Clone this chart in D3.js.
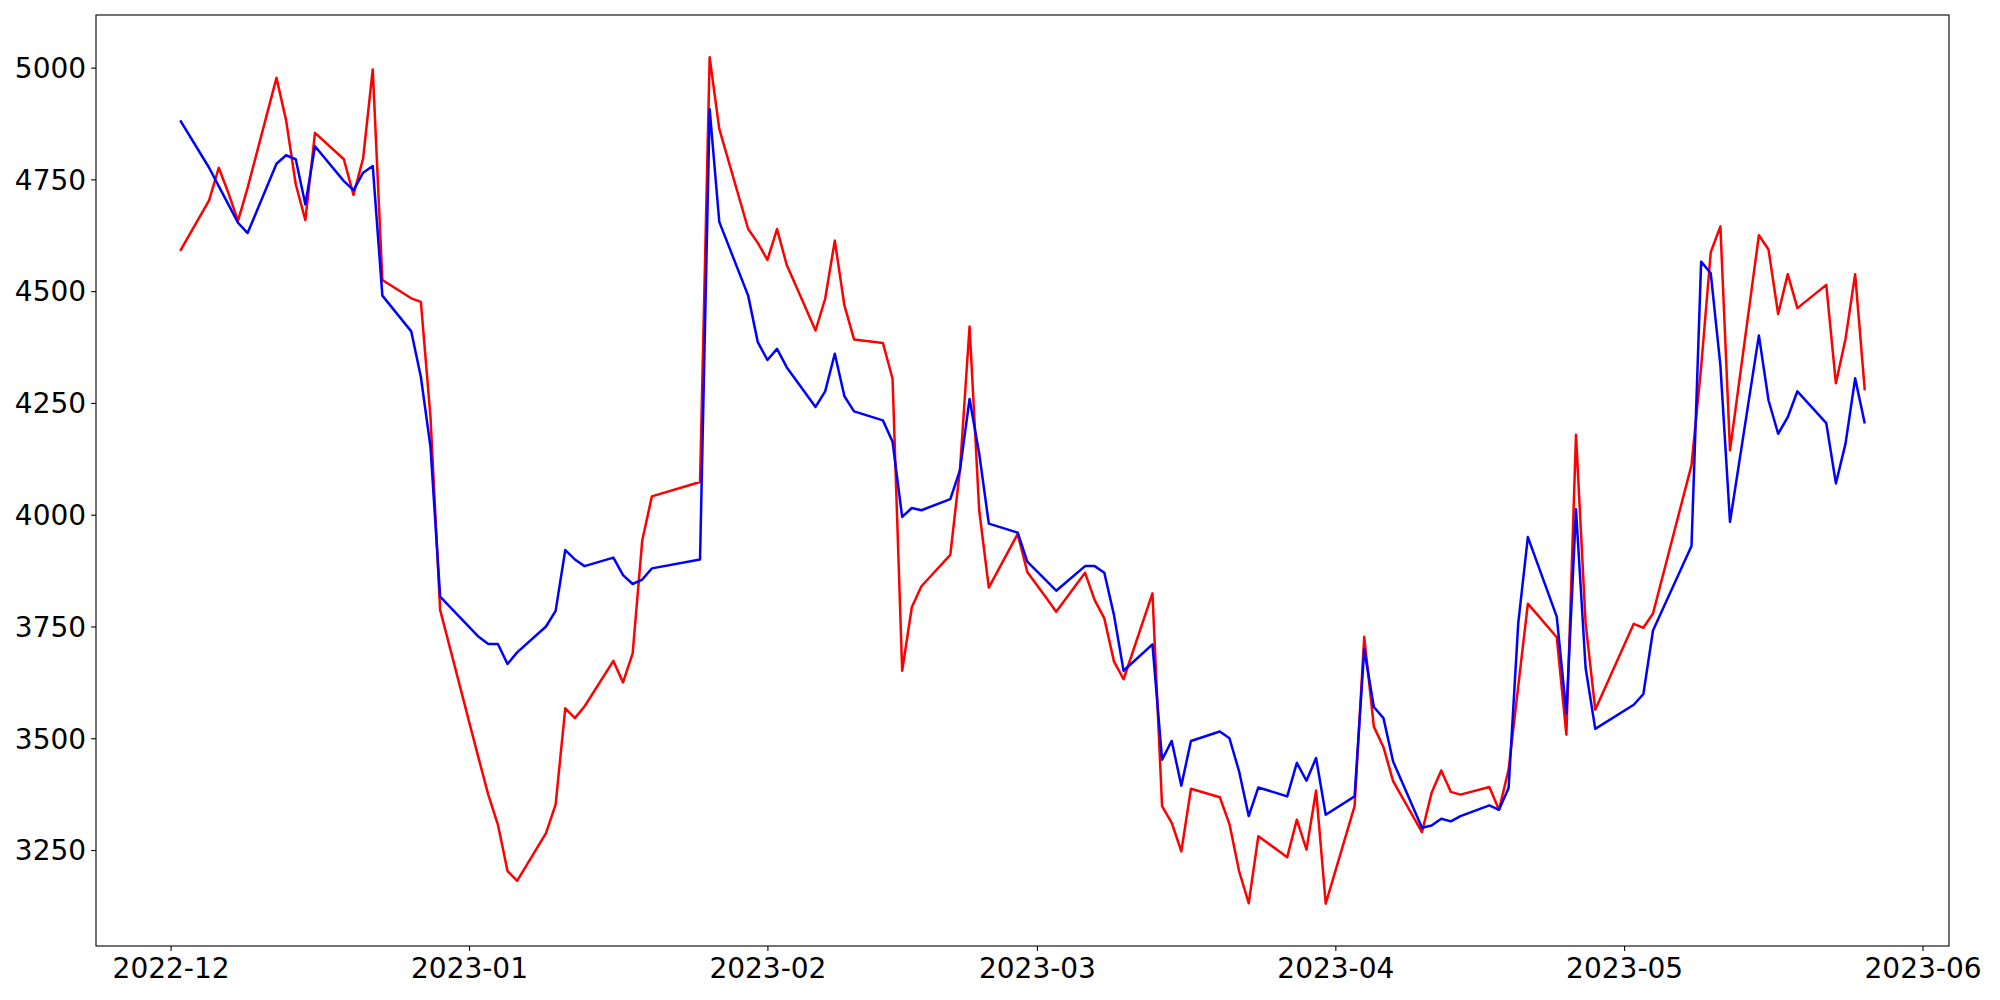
<!DOCTYPE html>
<html>
<head>
<meta charset="utf-8">
<script src="https://cdn.jsdelivr.net/npm/d3@7"></script>
<style>
  body { margin: 0; background: #fff; }
  svg { display: block; }
  .tick text { font-family: "DejaVu Sans", sans-serif; font-size: 28px; fill: #000; }
</style>
</head>
<body>
<svg id="chart"></svg>
<script>
// Data (trading days, Korean exchange calendar)
var dates = [
  "2022-12-02","2022-12-05","2022-12-06","2022-12-07","2022-12-08","2022-12-09",
  "2022-12-12","2022-12-13","2022-12-14","2022-12-15","2022-12-16",
  "2022-12-19","2022-12-20","2022-12-21","2022-12-22","2022-12-23",
  "2022-12-26","2022-12-27","2022-12-28","2022-12-29",
  "2023-01-02","2023-01-03","2023-01-04","2023-01-05","2023-01-06",
  "2023-01-09","2023-01-10","2023-01-11","2023-01-12","2023-01-13",
  "2023-01-16","2023-01-17","2023-01-18","2023-01-19","2023-01-20",
  "2023-01-25","2023-01-26","2023-01-27","2023-01-30","2023-01-31",
  "2023-02-01","2023-02-02","2023-02-03",
  "2023-02-06","2023-02-07","2023-02-08","2023-02-09","2023-02-10",
  "2023-02-13","2023-02-14","2023-02-15","2023-02-16","2023-02-17",
  "2023-02-20","2023-02-21","2023-02-22","2023-02-23","2023-02-24",
  "2023-02-27","2023-02-28","2023-03-02","2023-03-03",
  "2023-03-06","2023-03-07","2023-03-08","2023-03-09","2023-03-10",
  "2023-03-13","2023-03-14","2023-03-15","2023-03-16","2023-03-17",
  "2023-03-20","2023-03-21","2023-03-22","2023-03-23","2023-03-24",
  "2023-03-27","2023-03-28","2023-03-29","2023-03-30","2023-03-31",
  "2023-04-03","2023-04-04","2023-04-05","2023-04-06","2023-04-07",
  "2023-04-10","2023-04-11","2023-04-12","2023-04-13","2023-04-14",
  "2023-04-17","2023-04-18","2023-04-19","2023-04-20","2023-04-21",
  "2023-04-24","2023-04-25","2023-04-26","2023-04-27","2023-04-28",
  "2023-05-02","2023-05-03","2023-05-04",
  "2023-05-08","2023-05-09","2023-05-10","2023-05-11","2023-05-12",
  "2023-05-15","2023-05-16","2023-05-17","2023-05-18","2023-05-19",
  "2023-05-22","2023-05-23","2023-05-24","2023-05-25","2023-05-26"
];

var redValues = [
  4590,4703,4776,4720,4657,4731,
  4977,4882,4739,4659,4854,
  4795,4715,4797,4996,4525,
  4484,4476,4218,3787,
  3455,3374,3307,3203,3181,
  3288,3352,3567,3545,3571,
  3673,3625,3690,3943,4041,
  4073,5023,4863,4639,4608,
  4570,4639,4559,
  4412,4483,4613,4468,4392,
  4384,4304,3651,3793,3840,
  3910,4100,4421,4010,3837,
  3957,3872,3813,3783,
  3870,3809,3768,3672,3632,
  3824,3348,3311,3247,3387,
  3368,3308,3203,3131,3281,
  3234,3318,3251,3383,3130,
  3348,3727,3526,3480,3404,
  3290,3378,3428,3380,3374,
  3391,3340,3430,3616,3801,
  3726,3508,4179,3757,3564,
  3756,3747,3779,
  4111,4330,4587,4645,4144,
  4625,4593,4449,4538,4462,
  4514,4294,4393,4538,4278
];

var blueValues = [
  4882,4776,4735,4694,4653,4630,
  4785,4804,4795,4694,4824,
  4746,4726,4765,4780,4490,
  4410,4308,4151,3817,
  3727,3711,3711,3666,3692,
  3750,3785,3921,3900,3885,
  3904,3865,3845,3855,3880,
  3900,4907,4655,4490,4386,
  4346,4371,4330,
  4241,4276,4360,4265,4231,
  4211,4163,3995,4015,4010,
  4035,4099,4259,4137,3980,
  3960,3895,3852,3830,
  3885,3885,3870,3776,3651,
  3710,3452,3494,3394,3494,
  3515,3500,3426,3326,3390,
  3370,3445,3405,3456,3329,
  3370,3699,3570,3545,3448,
  3300,3305,3320,3314,3326,
  3350,3340,3389,3757,3950,
  3772,3555,4012,3657,3521,
  3575,3599,3741,
  3930,4566,4540,4334,3984,
  4401,4256,4181,4218,4276,
  4205,4070,4159,4305,4204
];

var yTicks = [3250, 3500, 3750, 4000, 4250, 4500, 4750, 5000];
var xTickLabels = ["2022-12","2023-01","2023-02","2023-03","2023-04","2023-05","2023-06"];

var width = 2000, height = 1000;
var margin = { top: 15, right: 51, bottom: 54, left: 96 };
var innerW = width - margin.left - margin.right;
var innerH = height - margin.top - margin.bottom;

var parse = d3.utcParse("%Y-%m-%d");
var parseMonth = d3.utcParse("%Y-%m");
var days = dates.map(parse);

var svg = d3.select("#chart")
    .attr("width", width)
    .attr("height", height);

var g = svg.append("g")
    .attr("transform", "translate(" + margin.left + "," + margin.top + ")");

// matplotlib-like 5% padding on both axes
var xExt = d3.extent(days);
var xPad = (xExt[1] - xExt[0]) * 0.05;
var x = d3.scaleUtc()
    .domain([new Date(+xExt[0] - xPad), new Date(+xExt[1] + xPad)])
    .range([0, innerW]);

var allVals = redValues.concat(blueValues);
var yExt = d3.extent(allVals);
var yPad = (yExt[1] - yExt[0]) * 0.05;
var y = d3.scaleLinear()
    .domain([yExt[0] - yPad, yExt[1] + yPad])
    .range([innerH, 0]);

var xAxis = d3.axisBottom(x)
    .tickValues(xTickLabels.map(parseMonth))
    .tickFormat(d3.utcFormat("%Y-%m"))
    .tickSize(4.9)
    .tickPadding(5);

var yAxis = d3.axisLeft(y)
    .tickValues(yTicks)
    .tickFormat(d3.format("d"))
    .tickSize(4.9)
    .tickPadding(5);

var gx = g.append("g")
    .attr("transform", "translate(0," + innerH + ")")
    .call(xAxis);
gx.select(".domain").remove();
gx.selectAll(".tick line").attr("stroke", "#000").attr("stroke-width", 1.1);
gx.selectAll(".tick text").attr("dy", "0.78em");

var gy = g.append("g").call(yAxis);
gy.select(".domain").remove();
gy.selectAll(".tick line").attr("stroke", "#000").attr("stroke-width", 1.1);
gy.selectAll(".tick text").attr("dy", "0.35em");

var line = d3.line()
    .x(function(d, i) { return x(days[i]); })
    .y(function(d) { return y(d); });

g.append("path")
    .datum(redValues)
    .attr("fill", "none")
    .attr("stroke", "red")
    .attr("stroke-width", 2.5)
    .attr("stroke-linejoin", "round")
    .attr("d", line);

g.append("path")
    .datum(blueValues)
    .attr("fill", "none")
    .attr("stroke", "blue")
    .attr("stroke-width", 2.5)
    .attr("stroke-linejoin", "round")
    .attr("d", line);

// frame
g.append("rect")
    .attr("width", innerW)
    .attr("height", innerH)
    .attr("fill", "none")
    .attr("stroke", "#000")
    .attr("stroke-width", 1.1);
</script>
</body>
</html>
